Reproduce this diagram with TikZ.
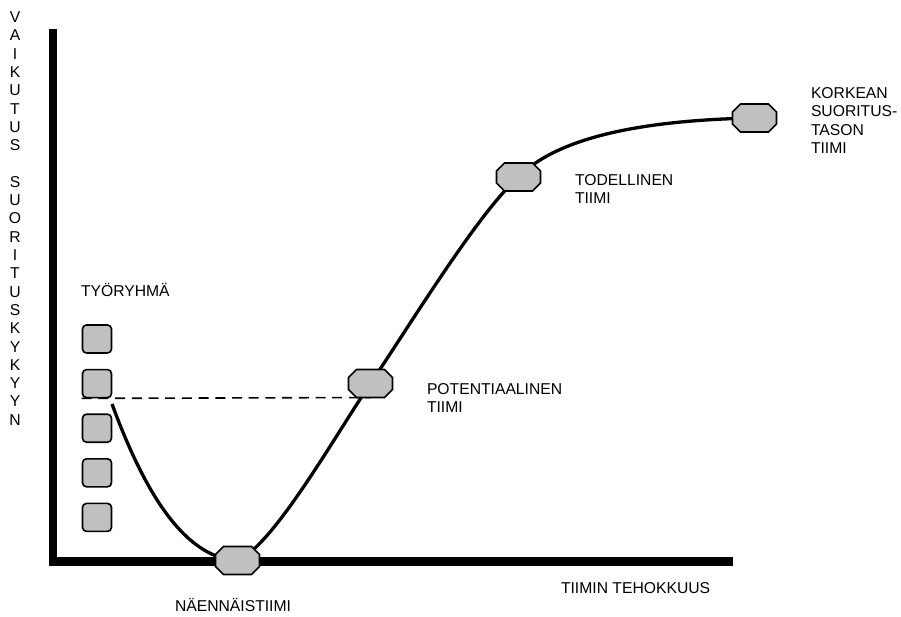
\documentclass[tikz,border=0pt]{standalone}
\usepackage{fontspec}
\setmainfont{Liberation Sans}
\usetikzlibrary{backgrounds}
\definecolor{boxgray}{RGB}{192,192,192}
\begin{document}
\begin{tikzpicture}[x=1pt,y=-1pt,
  lbl/.style={font=\fontsize{15.7}{18.3}\selectfont, inner sep=0pt, outer sep=0pt},
  stage/.style={rectangle, minimum width=44pt, minimum height=28pt,
    inner sep=0pt, outer sep=0pt},
  octo/.style={draw=black, line width=1.6pt, fill=boxgray, line join=miter},
  member/.style={rectangle, rounded corners=4pt, draw=black, line width=1.6pt,
    fill=boxgray, minimum width=29pt, minimum height=28pt, inner sep=0pt},
  curve/.style={line width=3.3pt},
  axis/.style={line width=8.5pt, line join=miter},
  dashline/.style={line width=1.6pt, dash pattern=on 10pt off 6.7pt}]

\useasboundingbox (0,0) rectangle (901,617);

% vertical axis caption, one letter per line
\foreach \ch [count=\i from 0] in {V,A,I,K,U,T,U,S}
  \node[lbl, anchor=base] (va\i) at (15,22.6+18.3*\i) {\ch};
\foreach \ch [count=\i from 9] in {S,U,O,R,I,T,U,S,K,Y,K,Y,Y,N}
  \node[lbl, anchor=base] (va\i) at (15,22.6+18.3*\i) {\ch};

% work group members
\foreach \k in {1,...,5}
  \node[member] (sq\k) at (97,339+44.6*\k-44.6) {};

% development stages (octagonal markers)
\node[stage] (naen) at (237.5,560.5) {};
\node[stage] (pot)  at (370.5,383.5) {};
\node[stage] (tod)  at (518.5,177) {};
\node[stage] (kork) at (754.5,118) {};
\foreach \n in {naen,pot,tod,kork}
  \draw[octo] ([xshift=8pt]\n.north west) -- ([xshift=-8pt]\n.north east)
    -- ([yshift=-8pt]\n.north east) -- ([yshift=8pt]\n.south east)
    -- ([xshift=-8pt]\n.south east) -- ([xshift=8pt]\n.south west)
    -- ([yshift=8pt]\n.south west) -- ([yshift=-8pt]\n.north west) -- cycle;

% labels (multi-line nodes are anchored at the baseline of their last line)
\node[lbl, anchor=base west] (tyoL) at (81,297) {TYÖRYHMÄ};
\node[lbl, anchor=base west, align=left] (potL) at (427,412.3) {POTENTIAALINEN\\TIIMI};
\node[lbl, anchor=base west, align=left] (todL) at (575,203.9) {TODELLINEN\\TIIMI};
\node[lbl, anchor=base west, align=left] (korkL) at (811,153.5) {KORKEAN\\SUORITUS-\\TASON\\TIIMI};
\node[lbl, anchor=base west] (naenL) at (175,611.6) {NÄENNÄISTIIMI};
\node[lbl, anchor=base west] (effL) at (561,593.6) {TIIMIN TEHOKKUUS};

\coordinate (ytop) at (53,29);
\coordinate (origin) at (53,561.5);
\coordinate (xend) at (733,561.5);
\coordinate (start) at (112,404);

\begin{pgfonlayer}{background}
  % axes
  \draw[axis] (ytop) -- (origin) -- (xend);
  % reference level of the work group
  \draw[dashline] (sq2.south west) -- (pot.south);
  % performance curve
  \draw[curve] (start) .. controls (140,480) and (180,558) .. (naen.center)
    .. controls (274,545) and (336,434) .. (pot.center)
    .. controls (410,325) and (478,213) .. (tod.center)
    .. controls (560,135) and (650,120) .. (kork.center);
\end{pgfonlayer}
\end{tikzpicture}
\end{document}
